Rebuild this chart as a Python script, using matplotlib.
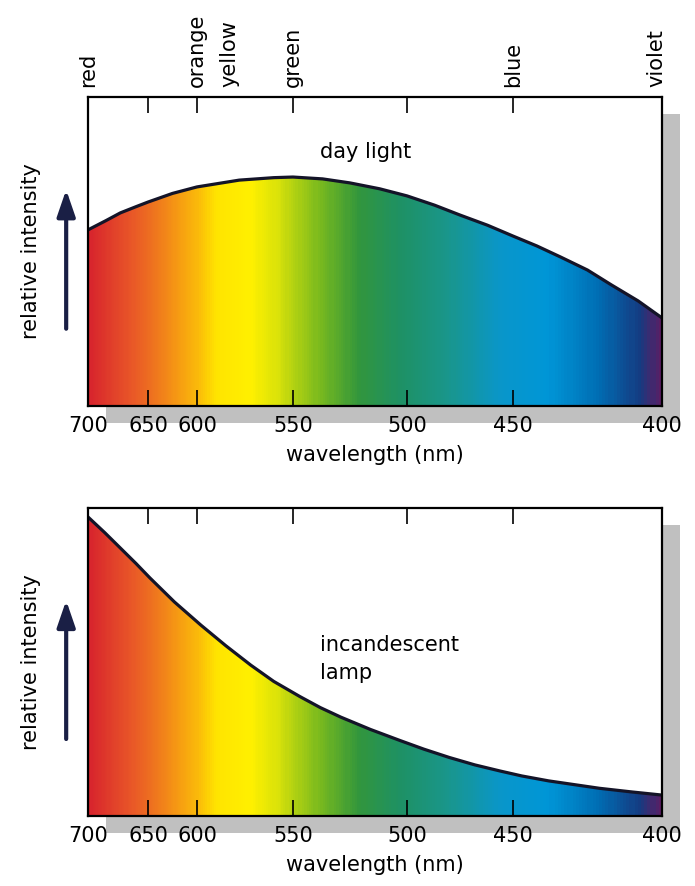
import numpy as np
import matplotlib
matplotlib.use("Agg")
import matplotlib.pyplot as plt
from matplotlib.colors import LinearSegmentedColormap
from matplotlib.patches import Polygon, Rectangle
from matplotlib.transforms import ScaledTranslation

# wavelength axis (drawn irregularly in the original)
tick_wl = [700, 650, 600, 550, 500, 450, 400]
tick_pos = [0.0, 0.1045, 0.1899, 0.3571, 0.5557, 0.7404, 1.0]

# colour names written above the top panel
color_names = ["red", "orange", "yellow", "green", "blue", "violet"]
color_name_wl = [700, 600, 583, 550, 450, 402]

# daylight spectrum (relative intensity)
day_wl = [700, 685, 673, 660, 650, 625, 600, 578, 560, 550, 537, 525, 512, 500,
          487, 475, 462, 450, 442, 434, 425, 417, 408, 400]
day_i = [0.570, 0.600, 0.625, 0.645, 0.660, 0.688, 0.709, 0.731, 0.739, 0.741, 0.735,
         0.722, 0.703, 0.680, 0.650, 0.618, 0.585, 0.550, 0.518, 0.482, 0.440, 0.392, 0.340, 0.285]

# incandescent lamp spectrum
lamp_wl = [700, 686, 673, 660, 648, 623, 598, 585, 572, 560, 547, 538, 529, 516, 503,
           492, 480, 468, 456, 447, 438, 421, 410, 400]
lamp_i = [0.971, 0.920, 0.870, 0.820, 0.773, 0.695, 0.620, 0.553, 0.490, 0.437, 0.388,
          0.352, 0.321, 0.281, 0.245, 0.217, 0.190, 0.166, 0.146, 0.130, 0.114, 0.090, 0.078, 0.068]

# spectrum colours along wavelength
spec_wl = [700, 665, 622, 600, 590, 572, 557, 538, 521, 503, 480, 456, 438, 421, 407, 400]
spec_rgb = [(215, 35, 45), (232, 85, 40), (245, 150, 20), (250, 185, 10), (255, 228, 0),
            (255, 240, 0), (215, 225, 10), (120, 185, 30), (50, 150, 60), (30, 145, 100),
            (25, 150, 140), (10, 150, 200), (0, 150, 215), (0, 110, 180), (20, 60, 130),
            (90, 30, 100)]

spec_cmap = LinearSegmentedColormap.from_list(
    "spec", [((700 - w) / 300.0, tuple(c / 255 for c in rgb)) for w, rgb in zip(spec_wl, spec_rgb)])

wl_asc = tick_wl[::-1]
pos_asc_for_wl = tick_pos[::-1]


def fwd(w):
    return np.interp(w, wl_asc, pos_asc_for_wl)


def inv(p):
    return np.interp(p, tick_pos, tick_wl)


def drawPanel(ax, wl, inten):
    ax.set_xscale("function", functions=(fwd, inv))
    ax.set_xlim(400, 700)
    ax.set_ylim(0, 1)

    verts = [(700, 0)] + list(zip(wl, inten)) + [(400, 0)]
    poly = Polygon(verts, closed=True, facecolor="none", edgecolor="none")
    ax.add_patch(poly)

    xe = np.linspace(700, 400, 301)
    xc = 0.5 * (xe[:-1] + xe[1:])
    mesh = ax.pcolormesh(xe, [0, 1], (700 - xc)[None, :], cmap=spec_cmap,
                         vmin=0, vmax=300, shading="flat", zorder=1)
    mesh.set_clip_path(poly)
    ax.plot(wl, inten, color="#141428", lw=2.3, zorder=3, solid_joinstyle="round")

    ax.set_xticks(tick_wl)
    ax.tick_params(axis="x", which="both", direction="in", top=True, bottom=True,
                   length=11.5, width=1.2, labelsize=15, pad=7, colors="black")
    ax.tick_params(axis="y", left=False, labelleft=False)
    for s in ax.spines.values():
        s.set_linewidth(1.6)
        s.set_zorder(4)
    ax.set_xlabel("wavelength (nm)", fontsize=15, labelpad=7)

    # drop shadow
    off = ScaledTranslation(0.18, -0.17, fig.dpi_scale_trans)
    shadow = Rectangle((0, 0), 1, 1, transform=ax.transAxes + off,
                       facecolor="#c0c0c0", edgecolor="none", zorder=-1)
    fig.add_artist(shadow)

    ax.annotate("", xy=(-0.038, 0.70), xytext=(-0.038, 0.25),
                xycoords="axes fraction", annotation_clip=False,
                arrowprops=dict(arrowstyle="-|>,head_length=1.6,head_width=0.55",
                                lw=3.0, color="#1a1f45", mutation_scale=10, shrinkA=0, shrinkB=0))
    ax.text(-0.1, 0.5, "relative intensity", transform=ax.transAxes, rotation=90,
            ha="center", va="center", fontsize=15)


fig = plt.figure(figsize=(6.95, 8.86), dpi=100)
ax1 = fig.add_axes([0.1266, 0.5418, 0.8259, 0.3487])
ax2 = fig.add_axes([0.1266, 0.0790, 0.8259, 0.3476])

drawPanel(ax1, day_wl, day_i)
drawPanel(ax2, lamp_wl, lamp_i)

for name, w in zip(color_names, color_name_wl):
    ax1.annotate(name, xy=(w, 1), xycoords=("data", "axes fraction"), xytext=(0, 7),
                 textcoords="offset points", rotation=90, ha="center", va="bottom", fontsize=15)

ax1.text(0.484, 0.822, "day light", transform=ax1.transAxes, ha="center", va="center", fontsize=15)
ax2.text(0.404, 0.51, "incandescent\nlamp", transform=ax2.transAxes, ha="left", va="center",
         fontsize=15, linespacing=1.45)

fig.savefig("out.png", dpi=100)
